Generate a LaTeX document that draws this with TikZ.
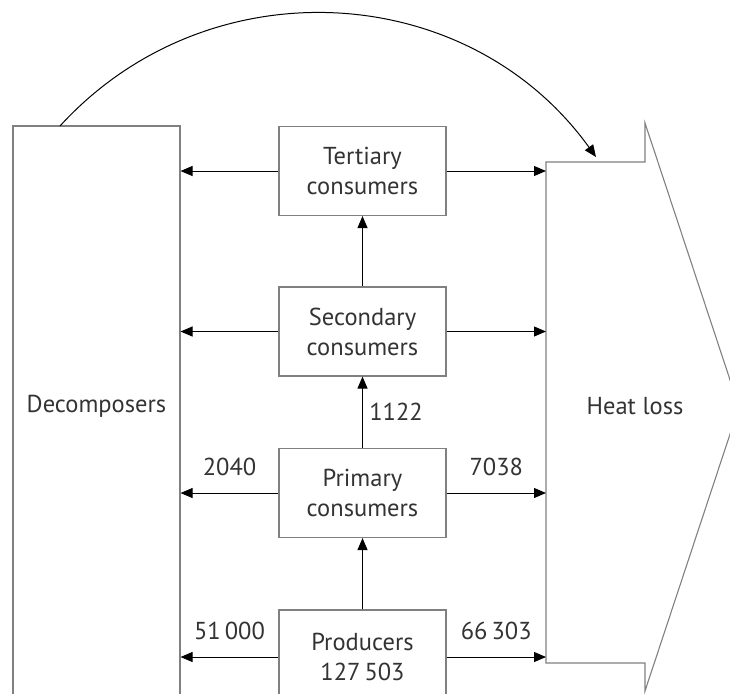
\documentclass[tikz,border=0pt]{standalone}
\usepackage{fontspec}
\setmainfont{PT Sans}
\usepackage{tikz}
\usetikzlibrary{arrows.meta,positioning}

\tikzset{
    level/.style={draw=black!50, line width=1.1pt, minimum width=167pt, minimum height=89pt,
        align=center, inner sep=0pt, text=black!80, font=\fontsize{24.5}{30}\selectfont},
    amount/.style={text=black!80, font=\fontsize{24.5}{30}\selectfont},
    flow/.style={-{Triangle[length=12pt,width=10pt]}, line width=1pt},
}

\begin{document}
\begin{tikzpicture}[x=1pt,y=-1pt]
            \useasboundingbox (0,0) rectangle (730,693);
            \clip (0,0) rectangle (730,693);

            \coordinate (S) at (60,126);
            \coordinate (E) at (596,157);
            \coordinate (H) at (546,407);

            \node[level, minimum height=600pt] (decomp) at (96.5,426) {};
            \node[amount] (declabel) at (96.5,406) {Decomposers};
            \draw[draw=black!50, line width=1.1pt] (546,162) -- (645,162) -- (645,123) -- (739,407)
                -- (645,691) -- (645,663) -- (546,663) -- cycle;
            \node[amount] (heat) at (635,406) {Heat loss};

            \node[level] (tert) at (362.5,171) {Tertiary\\consumers};
            \node[level] (sec) at (362.5,331.5) {Secondary\\consumers};
            \node[level] (prim) at (362.5,493) {Primary\\consumers};
            \node[level, minimum height=94pt] (prod) at (362.5,657) {Producers\\127\,503};

            \draw[flow] (tert.west) -- (tert.west -| decomp.east);
            \draw[flow] (tert.east) -- (tert.east -| H);
            \draw[flow] (sec.west) -- (sec.west -| decomp.east);
            \draw[flow] (sec.east) -- (sec.east -| H);
            \draw[flow] (prim.west) -- node[amount, above=13pt] {2040} (prim.west -| decomp.east);
            \draw[flow] (prim.east) -- node[amount, above=13pt] {7038} (prim.east -| H);
            \draw[flow] (prod.west) -- node[amount, above=13pt] {51\,000} (prod.west -| decomp.east);
            \draw[flow] (prod.east) -- node[amount, above=13pt] {66\,303} (prod.east -| H);

            \draw[flow] (prod) -- (prim);
            \draw[flow] (prim) -- node[amount, right=3pt] {1122} (sec);
            \draw[flow] (sec) -- (tert);

            \draw[flow] (S) .. controls (208,-36) and (468,-21) .. (E);
        \end{tikzpicture}
\end{document}
